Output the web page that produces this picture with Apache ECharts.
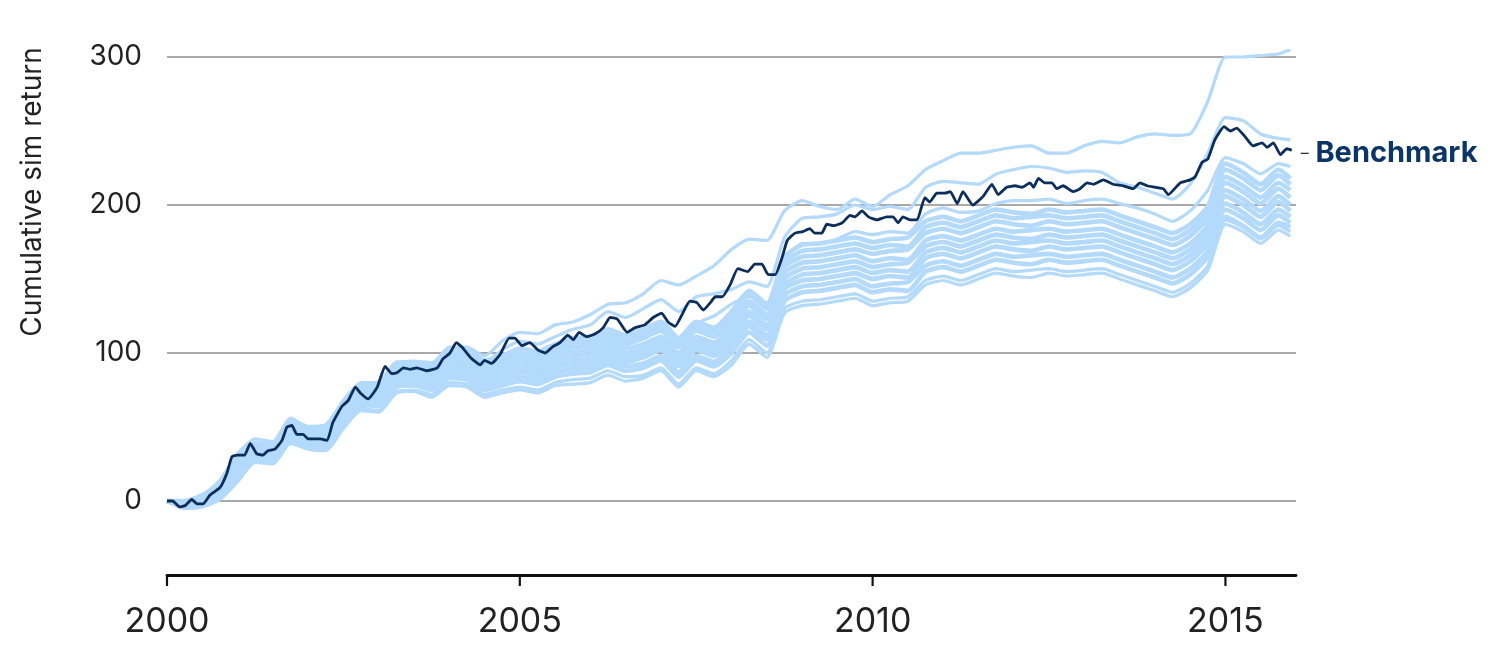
<!DOCTYPE html>
<html>
	<head>
		<meta charset="utf-8" />
		<title>Cumulative sim return</title>
		<style>
			html, body {
				width: 100%;
				height: 100%;
				margin: 0;
				padding: 0;
				background: #fff;
			}
			#main {
				width: 1500px;
				height: 650px;
			}
		</style>
	</head>
	<body>
		<div id="main"></div>
		<script src="https://cdn.jsdelivr.net/npm/echarts@6.0.0/dist/echarts.min.js"></script>
		<script>
			// x positions (decimal years) shared by the simulated runs
			var quarters = [
				2000, 2000.25, 2000.5, 2000.75, 2001, 2001.25, 2001.5, 2001.75, 2002, 2002.25,
				2002.5, 2002.75, 2003, 2003.25, 2003.5, 2003.75, 2004, 2004.25, 2004.5, 2004.75,
				2005, 2005.25, 2005.5, 2005.75, 2006, 2006.25, 2006.5, 2006.75, 2007, 2007.25,
				2007.5, 2007.75, 2008, 2008.25, 2008.5, 2008.75, 2009, 2009.25, 2009.5, 2009.75,
				2010, 2010.25, 2010.5, 2010.75, 2011, 2011.25, 2011.5, 2011.75, 2012, 2012.25,
				2012.5, 2012.75, 2013, 2013.25, 2013.5, 2013.75, 2014, 2014.25, 2014.5, 2014.75,
				2015, 2015.25, 2015.5, 2015.75, 2015.92
			];

			// simulated runs (light blue)
			var simTop = [
				0, 0, 4, 14, 32, 42, 40, 56, 50, 50,
				68, 80, 80, 94, 93, 93, 104, 104, 98, 108,
				114, 113, 119, 121, 126, 133, 134, 140, 149, 146,
				152, 159, 170, 177, 176, 196, 203, 199, 197, 204,
				199, 207, 213, 224, 230, 235, 235, 237, 239, 240,
				235, 235, 240, 243, 242, 246, 248, 247, 248, 270,
				300, 300, 301, 302, 305
			];
			var simHigh = [
				0, -2, 2, 12, 30, 38, 38, 53, 47, 47,
				66, 77, 78, 91, 91, 90, 101, 101, 94, 102,
				108, 106, 111, 116, 119, 128, 124, 130, 136, 128,
				138, 140, 143, 148, 145, 178, 191, 192, 194, 200,
				197, 199, 197, 212, 216, 215, 214, 221, 224, 226,
				225, 222, 223, 222, 215, 212, 208, 204, 214, 235,
				259, 257, 248, 245, 244
			];
			var simNear = [
				0, -3, 0, 10, 28, 36, 36, 51, 45, 44,
				63, 75, 76, 89, 89, 88, 98, 98, 91, 96,
				100, 97, 101, 104, 106, 113, 108, 112, 118, 110,
				120, 125, 133, 138, 134, 162, 174, 174, 177, 182,
				180, 182, 181, 194, 198, 195, 196, 201, 203, 203,
				204, 201, 203, 204, 201, 198, 194, 189, 196, 210,
				232, 228, 221, 228, 226
			];
			var simC1 = [
				0, 0, 4, 11, 28, 39, 38, 54, 50, 51,
				67, 79, 80, 93, 94, 93, 101, 102, 95, 98,
				103, 101, 106, 110, 111, 116, 112, 116, 121, 110,
				121, 117, 128, 142, 133, 165, 173, 174, 176, 178,
				175, 177, 178, 189, 192, 189, 193, 197, 195, 194,
				197, 195, 196, 197, 193, 189, 185, 181, 187, 199,
				228, 222, 214, 224, 218
			];
			var simC2 = [
				0, -1, 3, 10, 27, 38, 37, 53, 49, 48,
				65, 77, 78, 91, 92, 91, 99, 100, 93, 96,
				100, 98, 103, 107, 108, 113, 109, 113, 118, 107,
				118, 114, 125, 139, 130, 161, 169, 170, 172, 174,
				171, 173, 172, 185, 188, 185, 189, 193, 191, 192,
				193, 191, 192, 193, 189, 185, 181, 177, 183, 195,
				224, 218, 210, 220, 214
			];
			var simC3 = [
				0, -1, 2, 9, 25, 36, 37, 51, 47, 46,
				64, 76, 76, 89, 90, 88, 96, 97, 90, 93,
				98, 96, 101, 104, 105, 110, 106, 110, 115, 104,
				115, 111, 121, 135, 126, 158, 165, 166, 168, 170,
				167, 169, 170, 181, 184, 181, 185, 189, 187, 186,
				189, 187, 188, 189, 185, 181, 177, 173, 179, 191,
				219, 213, 205, 215, 210
			];
			var simC4 = [
				0, -2, 2, 8, 24, 35, 34, 50, 46, 45,
				62, 74, 74, 87, 88, 86, 94, 95, 88, 91,
				95, 93, 98, 101, 102, 107, 103, 106, 111, 100,
				111, 107, 118, 132, 123, 154, 161, 162, 164, 166,
				162, 164, 163, 176, 179, 176, 180, 184, 182, 183,
				184, 182, 183, 184, 180, 176, 172, 168, 174, 186,
				215, 209, 201, 211, 205
			];
			var simC5 = [
				0, -2, 1, 7, 22, 34, 33, 48, 44, 43,
				60, 72, 72, 85, 86, 84, 92, 92, 85, 88,
				92, 90, 95, 98, 99, 104, 100, 103, 108, 97,
				108, 104, 114, 128, 119, 150, 157, 158, 160, 162,
				158, 160, 161, 172, 175, 172, 176, 180, 178, 177,
				180, 178, 179, 180, 176, 172, 168, 164, 170, 182,
				210, 204, 196, 206, 200
			];
			var simC6 = [
				0, -2, 0, 6, 21, 33, 33, 47, 43, 43,
				58, 70, 70, 83, 84, 82, 90, 90, 83, 86,
				89, 87, 92, 95, 96, 101, 97, 100, 105, 94,
				105, 101, 111, 125, 116, 146, 153, 154, 156, 158,
				154, 156, 155, 168, 171, 168, 172, 176, 174, 175,
				176, 174, 175, 176, 172, 168, 164, 160, 166, 178,
				206, 200, 192, 202, 196
			];
			var simC7 = [
				0, -3, -1, 5, 19, 31, 32, 45, 41, 40,
				57, 68, 68, 81, 82, 80, 88, 87, 80, 83,
				87, 85, 90, 92, 93, 98, 94, 97, 102, 91,
				102, 98, 107, 121, 112, 143, 149, 150, 152, 154,
				150, 152, 151, 164, 167, 164, 168, 172, 170, 169,
				172, 170, 171, 172, 168, 164, 160, 156, 162, 174,
				201, 195, 187, 197, 192
			];
			var simC8 = [
				0, -3, -1, 4, 18, 30, 29, 44, 40, 39,
				55, 67, 66, 79, 80, 77, 85, 85, 78, 81,
				84, 82, 87, 89, 90, 95, 91, 93, 98, 87,
				98, 94, 104, 118, 109, 139, 145, 146, 148, 150,
				145, 147, 148, 159, 162, 159, 163, 167, 165, 166,
				167, 165, 166, 167, 163, 159, 155, 151, 157, 169,
				197, 191, 183, 193, 188
			];
			var simC9 = [
				0, -4, -2, 3, 16, 29, 28, 42, 38, 37,
				53, 65, 64, 77, 78, 75, 83, 82, 75, 78,
				81, 79, 84, 86, 87, 92, 88, 90, 95, 84,
				95, 91, 100, 114, 105, 135, 141, 142, 144, 146,
				141, 143, 142, 155, 158, 155, 159, 163, 161, 160,
				163, 161, 162, 163, 159, 155, 151, 147, 153, 165,
				192, 186, 178, 188, 185
			];
			var simLow1 = [
				0, -5, -3, 2, 14, 27, 27, 40, 36, 36,
				51, 63, 61, 74, 75, 72, 80, 79, 72, 75,
				77, 75, 80, 82, 83, 88, 84, 85, 90, 79,
				90, 86, 95, 109, 100, 130, 135, 136, 138, 140,
				135, 137, 138, 149, 152, 149, 153, 157, 155, 156,
				157, 155, 156, 157, 153, 149, 145, 141, 147, 159,
				190, 185, 177, 186, 182
			];
			var simLow2 = [
				0, -5, -4, 1, 13, 26, 25, 39, 35, 34,
				49, 61, 60, 73, 74, 70, 78, 77, 70, 73,
				75, 73, 78, 79, 80, 85, 81, 83, 88, 77,
				88, 84, 92, 106, 97, 127, 132, 133, 135, 137,
				132, 134, 135, 146, 149, 146, 150, 154, 152, 151,
				154, 152, 153, 154, 150, 146, 142, 138, 144, 156,
				187, 182, 174, 183, 179
			];

			// benchmark (dark line), read at its turning points
			var benchYears = [
				2000.00, 2000.08, 2000.18, 2000.26, 2000.35, 2000.43, 2000.51, 2000.61, 2000.75, 2000.85,
				2000.92, 2001.00, 2001.10, 2001.18, 2001.27, 2001.36, 2001.43, 2001.53, 2001.63, 2001.70,
				2001.77, 2001.84, 2001.93, 2002.00, 2002.17, 2002.27, 2002.35, 2002.48, 2002.57, 2002.67,
				2002.74, 2002.85, 2002.98, 2003.09, 2003.19, 2003.27, 2003.35, 2003.44, 2003.54, 2003.68,
				2003.83, 2003.91, 2004.01, 2004.10, 2004.18, 2004.30, 2004.44, 2004.50, 2004.60, 2004.72,
				2004.85, 2004.93, 2005.03, 2005.14, 2005.26, 2005.36, 2005.46, 2005.57, 2005.68, 2005.76,
				2005.84, 2005.95, 2006.07, 2006.18, 2006.28, 2006.38, 2006.52, 2006.63, 2006.77, 2006.89,
				2007.01, 2007.10, 2007.20, 2007.30, 2007.41, 2007.51, 2007.60, 2007.70, 2007.77, 2007.87,
				2007.98, 2008.09, 2008.23, 2008.33, 2008.43, 2008.52, 2008.62, 2008.72, 2008.79, 2008.90,
				2009.01, 2009.11, 2009.18, 2009.28, 2009.35, 2009.45, 2009.57, 2009.68, 2009.75, 2009.85,
				2009.94, 2010.06, 2010.20, 2010.29, 2010.36, 2010.43, 2010.53, 2010.63, 2010.74, 2010.81,
				2010.91, 2011.02, 2011.10, 2011.20, 2011.28, 2011.42, 2011.57, 2011.69, 2011.78, 2011.90,
				2012.02, 2012.12, 2012.23, 2012.28, 2012.35, 2012.44, 2012.54, 2012.61, 2012.70, 2012.84,
				2012.94, 2013.04, 2013.13, 2013.27, 2013.41, 2013.55, 2013.69, 2013.79, 2013.89, 2014.12,
				2014.19, 2014.36, 2014.50, 2014.57, 2014.67, 2014.75, 2014.85, 2014.98, 2015.07, 2015.16,
				2015.28, 2015.39, 2015.52, 2015.59, 2015.68, 2015.78, 2015.87, 2015.94
			];
			var benchValues = [
				0, 0, -4, -3, 1, -2, -2, 4, 9, 19,
				30, 31, 31, 39, 32, 31, 34, 35, 41, 50,
				51, 45, 45, 42, 42, 41, 53, 64, 68, 77,
				73, 69, 77, 91, 86, 87, 90, 89, 90, 88,
				90, 96, 100, 107, 104, 97, 92, 95, 93, 99,
				110, 110, 105, 107, 102, 100, 104, 107, 112, 109,
				114, 111, 113, 117, 124, 123, 114, 117, 119, 124,
				127, 121, 118, 126, 135, 134, 129, 134, 138, 138,
				146, 157, 155, 160, 160, 153, 153, 165, 176, 181,
				182, 184, 181, 181, 187, 186, 188, 193, 192, 196,
				192, 190, 192, 192, 188, 192, 190, 190, 205, 202,
				208, 208, 209, 201, 209, 200, 206, 214, 207, 212,
				213, 212, 215, 212, 218, 215, 215, 211, 213, 209,
				211, 215, 214, 217, 214, 213, 211, 215, 213, 211,
				207, 215, 217, 219, 229, 231, 244, 253, 250, 252,
				246, 240, 242, 239, 242, 234, 238, 237
			];

			var yTicks = [0, 100, 200, 300];
			var xTicks = [2000, 2005, 2010, 2015];

			// outer runs drawn thinner, core runs thicker so they merge into a band
			var outerRuns = [simTop, simHigh, simNear, simLow1, simLow2];
			var coreRuns = [simC1, simC2, simC3, simC4, simC5, simC6, simC7, simC8, simC9];

			var lightBlue = '#b3d9fb';
			var navy = '#0b2e5c';
			var fontName = 'Inter, "Noto Sans", sans-serif';

			function simSeries(run, width) {
				return {
					type: 'line',
					data: quarters.map(function(x, i) { return [x, run[i]]; }),
					showSymbol: false,
					smooth: 0.2,
					clip: false,
					silent: true,
					lineStyle: { color: lightBlue, width: width },
					z: 2
				};
			}

			var series = [];
			outerRuns.forEach(function(run) { series.push(simSeries(run, 3.2)); });
			coreRuns.forEach(function(run) { series.push(simSeries(run, 4.6)); });

			series[0].markLine = {
				silent: true,
				symbol: 'none',
				label: { show: false },
				lineStyle: { color: '#8c8c8c', width: 1.5, type: 'solid' },
				data: yTicks.map(function(v) { return { yAxis: v }; }),
				z: 1
			};

			series.push({
				type: 'line',
				data: benchYears.map(function(x, i) { return [x, benchValues[i]]; }),
				showSymbol: false,
				smooth: 0.15,
				silent: true,
				lineStyle: { color: navy, width: 2.8 },
				z: 5,
				endLabel: {
					show: true,
					distance: 9,
					offset: [0, 3],
					formatter: '{d|–}  {b|Benchmark}',
					rich: {
						d: { fontSize: 16, color: '#333', fontFamily: fontName },
						b: { fontSize: 29, fontWeight: 'bold', color: '#0b3566', fontFamily: fontName }
					}
				}
			});

			var chart = echarts.init(document.getElementById('main'), null, { renderer: 'canvas' });
			chart.setOption({
				animation: false,
				backgroundColor: '#fff',
				grid: { left: 167, right: 204, top: 57, bottom: 75 },
				xAxis: {
					type: 'value',
					min: 2000,
					max: 2016,
					interval: 5,
					axisLine: { show: true, onZero: false, lineStyle: { color: '#111', width: 2.8 } },
					axisTick: { show: false },
					axisLabel: {
						margin: 30,
						fontSize: 34,
						color: '#222',
						fontFamily: fontName,
						showMaxLabel: false,
						formatter: function(v) { return v % 5 === 0 ? String(v) : ''; }
					},
					splitLine: { show: false }
				},
				yAxis: {
					type: 'value',
					min: -50,
					max: 300,
					interval: 50,
					axisLine: { show: false },
					axisTick: { show: false },
					splitLine: { show: false },
					axisLabel: {
						margin: 25,
						fontSize: 28,
						color: '#222',
						fontFamily: fontName,
						formatter: function(v) { return v % 100 === 0 && v >= 0 ? String(v) : ''; }
					}
				},
				graphic: [{
					id: 'yname',
					type: 'text',
					x: 33,
					y: 192,
					rotation: Math.PI / 2,
					style: {
						text: 'Cumulative sim return',
						fontSize: 28,
						fontFamily: fontName,
						fill: '#222',
						align: 'center',
						verticalAlign: 'middle'
					}
				}],
				series: series
			});

			// year tick marks hanging below the axis line, placed through the axis scale
			var axisY = chart.convertToPixel({ yAxisIndex: 0 }, -50);
			var tickMarks = xTicks.map(function(year, i) {
				var px = chart.convertToPixel({ xAxisIndex: 0 }, year);
				return {
					id: 'tick' + i,
					type: 'line',
					silent: true,
					z: 10,
					shape: { x1: px, y1: axisY, x2: px, y2: axisY + 11 },
					style: { stroke: '#111', lineWidth: 2.2 }
				};
			});
			chart.setOption({ graphic: tickMarks });
		</script>
	</body>
</html>
